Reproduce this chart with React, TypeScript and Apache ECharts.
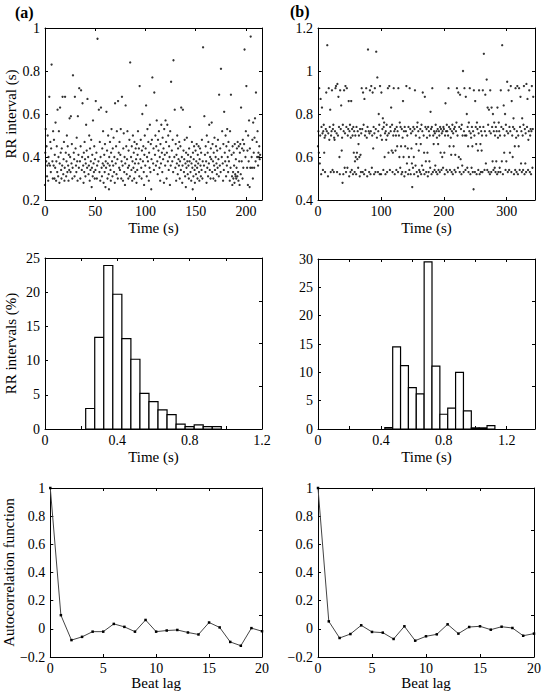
import React, { useEffect, useRef } from 'react';
import * as echarts from 'echarts';

const FONT = 'Liberation Serif, Times New Roman, Times, serif';

// (a) RR intervals in hundredths of a second, in beat order (time = running sum)
const leftRR = [
  27,42,53,38,45,31,36,50,29,40,37,68,36,47,33,44,83,38,30,52,
  36,48,30,41,35,56,29,38,45,33,62,31,40,52,28,37,63,42,34,30,
  44,36,68,32,39,47,29,35,68,42,31,38,50,33,45,36,29,41,34,58,
  40,33,59,37,46,30,35,78,42,39,31,68,44,36,33,49,38,29,59,41,
  35,72,38,30,45,71,34,40,65,36,28,42,33,47,39,31,37,55,43,35,
  67,40,32,36,50,29,44,34,38,48,26,35,41,31,57,37,33,45,30,39,
  34,66,42,30,36,95,38,62,33,47,29,40,63,35,31,44,37,52,28,36,
  41,33,46,26,38,35,61,43,30,37,50,32,25,40,36,47,34,29,42,53,
  38,31,44,36,49,33,40,28,65,37,45,32,52,39,30,66,42,35,47,34,
  41,53,30,38,68,36,29,44,51,33,40,27,37,64,45,32,39,52,35,30,
  43,36,48,31,84,40,34,45,29,38,50,35,42,30,47,37,33,44,39,28,
  46,34,41,52,37,44,31,73,39,48,35,30,43,60,38,45,33,27,41,50,
  36,44,64,31,40,53,38,47,29,42,35,55,33,46,25,39,48,77,37,44,
  34,70,41,50,36,45,57,38,32,48,43,52,35,40,29,46,37,55,42,33,
  49,39,44,28,53,41,36,57,47,30,42,55,38,50,34,45,40,27,52,36,
  75,43,38,48,33,85,40,62,35,46,29,41,37,50,32,44,39,36,47,30,
  38,45,34,63,40,28,36,62,43,33,39,48,31,37,26,42,35,49,38,32,
  41,36,30,44,38,54,33,40,29,37,47,35,25,42,31,39,45,34,28,36,
  43,32,38,46,35,30,41,37,45,33,29,39,44,36,31,42,34,48,30,38,
  91,36,59,41,33,45,38,28,50,35,42,31,47,37,55,34,40,30,44,39,
  56,33,46,38,30,42,36,49,34,29,40,45,37,32,43,35,48,39,31,69,
  36,44,33,81,40,52,37,29,46,34,61,42,38,50,31,45,36,53,40,33,
  47,38,43,29,52,35,69,41,31,27,45,33,30,42,36,28,46,32,31,39,
  30,35,44,31,47,33,29,45,38,27,42,46,32,63,38,44,30,48,35,43,
  46,90,40,52,73,35,43,27,50,38,57,26,44,35,96,40,35,48,30,56,
  42,35,49,58,38,70,47,40,52,36,42,40,45,39,41,
];

// (b) RR intervals in hundredths of a second, in beat order
const rightRR = [
  65,72,62,92,57,70,87,52,74,83,71,54,72,75,62,69,53,70,73,90,
  72,112,51,71,92,68,74,82,53,70,72,91,54,73,75,53,69,68,72,92,
  93,71,53,94,70,88,74,60,52,91,73,84,63,69,48,75,52,72,91,55,
  71,93,53,74,92,55,70,73,86,51,72,75,53,69,86,54,73,70,52,74,
  62,72,53,58,70,60,52,74,62,59,72,55,66,70,60,51,73,61,53,71,
  92,73,53,90,75,52,87,70,54,72,92,69,51,74,110,72,53,71,91,52,
  72,93,55,70,90,64,74,52,71,92,53,73,109,69,97,53,72,80,75,52,
  93,70,52,90,68,73,78,54,74,76,60,71,52,72,68,75,53,70,92,62,
  71,93,54,74,72,83,63,75,53,62,70,92,72,52,73,63,70,54,74,65,
  72,53,92,70,60,76,55,74,65,52,73,53,69,86,60,72,51,74,65,53,
  72,93,57,70,64,52,74,60,54,92,73,52,71,64,57,46,72,55,74,60,
  52,73,91,56,70,66,53,74,76,51,72,63,54,69,53,73,66,52,75,56,
  72,90,54,70,62,52,88,74,58,53,73,69,62,51,74,53,72,58,70,55,
  81,73,52,74,92,53,70,66,72,54,71,56,75,53,72,69,52,73,66,54,
  72,70,53,74,62,73,54,71,60,72,55,74,73,62,52,70,85,72,54,75,
  72,53,70,92,74,65,54,73,69,61,53,72,75,52,71,65,73,54,74,61,
  53,72,76,92,70,55,90,60,74,53,89,59,73,52,75,56,70,100,53,72,
  92,70,54,88,70,80,55,74,65,53,76,72,92,52,71,69,55,74,65,53,
  72,45,91,70,53,86,74,66,52,76,73,63,54,71,91,52,74,66,53,72,
  63,70,53,91,74,108,54,72,89,57,70,96,54,83,75,53,82,72,52,91,
  71,53,83,74,58,80,54,72,76,55,70,53,74,58,72,52,83,69,53,76,
  72,55,70,53,91,74,58,112,52,73,84,62,70,80,54,75,58,72,95,53,
  71,91,54,74,62,72,93,53,86,70,60,74,78,52,73,65,54,92,69,53,
  72,93,52,70,65,92,54,74,88,57,72,53,78,70,54,75,93,52,73,57,
  71,53,94,74,87,54,68,72,91,53,70,73,52,72,93,55,73,88,
];

// Histograms: bin centres (s) and percentages
const BIN_WIDTH = 0.05;
const leftHistCenters = [0.25,0.30,0.35,0.40,0.45,0.50,0.55,0.60,0.65,0.70,0.75,0.80,0.85,0.90,0.95];
const leftHistPct = [3.0,13.4,23.9,19.7,13.2,10.2,5.2,4.0,2.8,2.1,0.7,0.35,0.6,0.35,0.35];
const rightHistCenters = [0.45,0.50,0.55,0.60,0.65,0.70,0.75,0.80,0.85,0.90,0.95,1.00,1.05,1.10];
const rightHistPct = [0.25,14.5,11.2,7.3,6.2,29.5,11.1,2.6,3.7,10.0,3.2,0.2,0.2,0.6];

// Autocorrelation function, lags 0..20
const leftACF = [1,0.097,-0.08,-0.057,-0.02,-0.02,0.035,0.014,-0.02,0.063,-0.02,-0.012,-0.008,-0.026,-0.04,0.045,0.01,-0.093,-0.12,0.005,-0.017];
const rightACF = [1,0.053,-0.065,-0.037,0.025,-0.022,-0.027,-0.072,0.018,-0.084,-0.053,-0.039,0.032,-0.034,0.013,0.018,-0.006,0.015,0.006,-0.049,-0.034];

function toTimeSeries(rr: number[]) {
  let t = 0;
  return rr.map((v) => {
    const p = [t, v / 100];
    t += v / 100;
    return p;
  });
}

const fmt = (v: number) => String(parseFloat(v.toFixed(6))).replace('-', '\u2212');
const isMult = (v: number, s: number) => Math.abs(v / s - Math.round(v / s)) < 1e-6;

const GRIDS = [
  { left: 45, top: 28, width: 217, height: 172 },
  { left: 318, top: 28, width: 217, height: 172 },
  { left: 45, top: 258, width: 217, height: 171 },
  { left: 318, top: 259, width: 217, height: 170 },
  { left: 45, top: 488, width: 217, height: 169 },
  { left: 318, top: 488, width: 217, height: 169 },
];

const X_SPECS = [
  { min: 0, max: 216, interval: 50, labelStep: 50, name: 'Time (s)', gap: 20 },
  { min: 0, max: 345, interval: 100, labelStep: 100, name: 'Time (s)', gap: 20 },
  { min: 0, max: 1.2, interval: 0.2, labelStep: 0.4, name: 'Time (s)', gap: 20 },
  { min: 0, max: 1.38, interval: 0.2, labelStep: 0.4, name: 'Time (s)', gap: 20 },
  { min: 0, max: 20, interval: 5, labelStep: 5, name: 'Beat lag', gap: 13 },
  { min: 0, max: 20, interval: 5, labelStep: 5, name: 'Beat lag', gap: 13 },
];

const Y_SPECS = [
  { min: 0.2, max: 1, interval: 0.2, name: 'RR interval (s)' },
  { min: 0.4, max: 1.2, interval: 0.2, name: '' },
  { min: 0, max: 25, interval: 5, name: 'RR intervals (%)' },
  { min: 0, max: 30, interval: 5, name: '' },
  { min: -0.2, max: 1, interval: 0.2, name: 'Autocorrelation function' },
  { min: -0.2, max: 1, interval: 0.2, name: '' },
];

const AXIS_LINE = { show: true, onZero: false, lineStyle: { color: '#000', width: 1 } };
const TICK = { show: true, inside: true, length: 3, lineStyle: { color: '#000', width: 1 } };

function buildOption() {
  const xAxis: any[] = [];
  const yAxis: any[] = [];
  GRIDS.forEach((_, g) => {
    const xs = X_SPECS[g];
    const ys = Y_SPECS[g];
    xAxis.push({
      type: 'value', gridIndex: g, position: 'bottom',
      min: xs.min, max: xs.max, interval: xs.interval,
      name: xs.name, nameLocation: 'middle', nameGap: xs.gap,
      nameTextStyle: { fontFamily: FONT, fontSize: 15, color: '#000' },
      axisLine: AXIS_LINE, axisTick: TICK, splitLine: { show: false },
      axisLabel: {
        margin: 4, fontFamily: FONT, fontSize: 14, color: '#000',
        formatter: (v: number) => (isMult(v, xs.labelStep) ? fmt(v) : ''),
      },
    });
    xAxis.push({
      type: 'value', gridIndex: g, position: 'top',
      min: xs.min, max: xs.max, interval: xs.interval,
      axisLine: AXIS_LINE, axisTick: TICK, splitLine: { show: false },
      axisLabel: { show: false },
    });
    yAxis.push({
      type: 'value', gridIndex: g, position: 'left',
      min: ys.min, max: ys.max, interval: ys.interval,
      name: ys.name, nameLocation: 'middle', nameRotate: 90, nameGap: 27,
      nameTextStyle: { fontFamily: FONT, fontSize: 15, color: '#000' },
      axisLine: AXIS_LINE, axisTick: TICK, splitLine: { show: false },
      axisLabel: {
        margin: 5, fontFamily: FONT, fontSize: 14, color: '#000',
        formatter: (v: number) => (isMult(v, ys.interval) ? fmt(v) : ''),
      },
    });
    yAxis.push({
      type: 'value', gridIndex: g, position: 'right',
      min: 0, max: 1, interval: 0.25,
      axisLine: AXIS_LINE, axisTick: TICK, splitLine: { show: false },
      axisLabel: { show: false },
    });
  });

  const histRender = (params: any, api: any) => {
    const c = api.value(0);
    const h = api.value(1);
    const p0 = api.coord([c - BIN_WIDTH / 2, h]);
    const p1 = api.coord([c + BIN_WIDTH / 2, 0]);
    return {
      type: 'rect',
      shape: { x: p0[0], y: p0[1], width: p1[0] - p0[0], height: p1[1] - p0[1] },
      style: { fill: '#fff', stroke: '#000', lineWidth: 1.2 },
    };
  };

  const scatterStyle = { symbol: 'circle', symbolSize: 2.3, itemStyle: { color: '#000' } };
  const lineCommon = {
    type: 'line', symbol: 'rect', symbolSize: 2.5, showSymbol: true,
    itemStyle: { color: '#000' }, lineStyle: { color: '#444', width: 1 },
  };

  return {
    animation: false,
    backgroundColor: '#fff',
    textStyle: { fontFamily: FONT },
    grid: GRIDS.map((gr) => ({ ...gr, containLabel: false })),
    xAxis, yAxis,
    graphic: [
      { type: 'text', left: 15, top: 4, style: { text: '(a)', fontFamily: FONT, fontWeight: 'bold', fontSize: 16, fill: '#000' } },
      { type: 'text', left: 290, top: 3, style: { text: '(b)', fontFamily: FONT, fontWeight: 'bold', fontSize: 16, fill: '#000' } },
    ],
    series: [
      { type: 'scatter', xAxisIndex: 0, yAxisIndex: 0, data: toTimeSeries(leftRR), ...scatterStyle },
      { type: 'scatter', xAxisIndex: 2, yAxisIndex: 2, data: toTimeSeries(rightRR), ...scatterStyle },
      {
        type: 'custom', xAxisIndex: 4, yAxisIndex: 4, renderItem: histRender,
        encode: { x: 0, y: 1 },
        data: leftHistCenters.map((c, i) => [c, leftHistPct[i]]),
      },
      {
        type: 'custom', xAxisIndex: 6, yAxisIndex: 6, renderItem: histRender,
        encode: { x: 0, y: 1 },
        data: rightHistCenters.map((c, i) => [c, rightHistPct[i]]),
      },
      { ...lineCommon, xAxisIndex: 8, yAxisIndex: 8, data: leftACF.map((v, i) => [i, v]) },
      { ...lineCommon, xAxisIndex: 10, yAxisIndex: 10, data: rightACF.map((v, i) => [i, v]) },
    ],
  };
}

export default function App() {
  const ref = useRef<HTMLDivElement>(null);
  useEffect(() => {
    if (!ref.current) return;
    const chart = echarts.init(ref.current, undefined, { renderer: 'svg' });
    chart.setOption(buildOption() as any);
    return () => chart.dispose();
  }, []);
  return (
    <div
      ref={ref}
      style={{ position: 'fixed', left: 0, top: 0, width: 544, height: 695, background: '#fff' }}
    />
  );
}
